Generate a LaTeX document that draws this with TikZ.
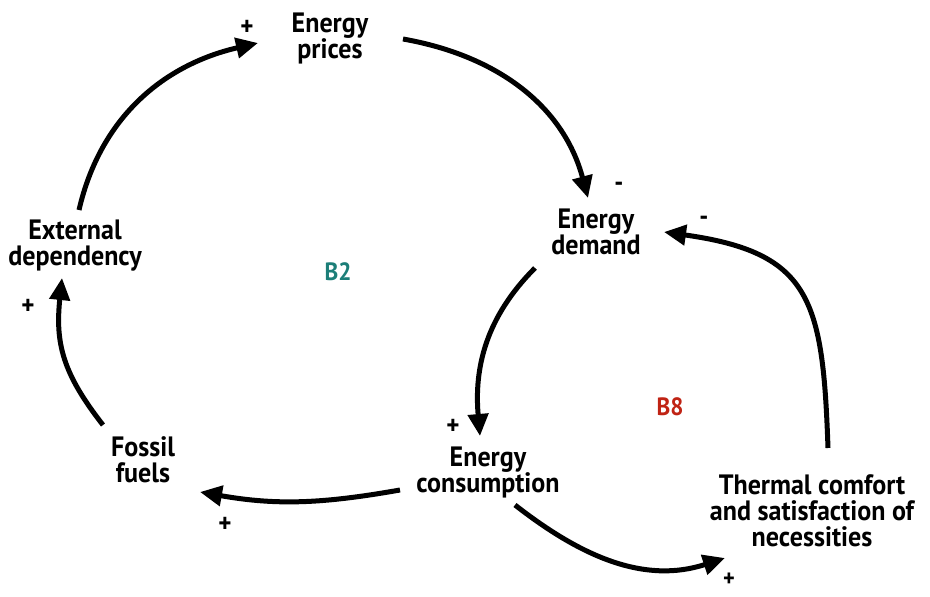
\documentclass[tikz,border=0pt]{standalone}
\usepackage{fontspec}
\usetikzlibrary{arrows.meta}
\newfontfamily\lblfont{PT Sans}[FakeStretch=0.93]
\definecolor{loopteal}{RGB}{28,126,120}
\definecolor{loopred}{RGB}{192,35,20}
\tikzset{
  var/.style={inner sep=0pt, align=center, font=\lblfont\bfseries\fontsize{28}{26}\selectfont},
  sign/.style={inner sep=0pt, font=\lblfont\bfseries\fontsize{27}{27}\selectfont},
  loopname/.style={inner sep=0pt, font=\lblfont\bfseries\fontsize{25}{25}\selectfont},
  link/.style={line width=5pt, -{Triangle[length=22pt,width=20pt]}}
}
\begin{document}
\begin{tikzpicture}[x=1pt,y=1pt]
\useasboundingbox (0,0) rectangle (930,-597);

% variables
\node[var] (prices)  at (330,-38)  {Energy\\prices};
\node[var] (demand)  at (596,-232) {Energy\\demand};
\node[var] (ext)     at (75,-246)  {External\\dependency};
\node[var] (fossil)  at (143,-460) {Fossil\\fuels};
\node[var] (cons)    at (488,-472) {Energy\\consumption};
\node[var] (thermal) at (812,-511) {Thermal comfort\\and satisfaction of\\necessities};

% loop names
\node[loopname, text=loopteal] (b2) at (338,-272) {B2};
\node[loopname, text=loopred]  (b8) at (670,-407) {B8};

% causal links (end points set from the node centres)
\draw[link] ([xshift=4pt,yshift=36pt]ext.center) to[out=77,in=193]
            ([xshift=-72pt,yshift=-5pt]prices.center);
\draw[link] ([xshift=73pt,yshift=-1pt]prices.center) to[out=-10,in=105]
            ([xshift=-8pt,yshift=34pt]demand.center);
\draw[link] ([xshift=-61pt,yshift=-36pt]demand.center) to[out=225,in=95]
            ([xshift=-8pt,yshift=36pt]cons.center);
\draw[link] ([xshift=-88pt,yshift=-18pt]cons.center) to[out=190,in=-10]
            ([xshift=57pt,yshift=-32pt]fossil.center);
\draw[link] ([xshift=-40pt,yshift=35pt]fossil.center) to[out=128,in=264,looseness=1.1]
            ([xshift=-13pt,yshift=-32pt]ext.center);
\draw[link] ([xshift=27pt,yshift=-33pt]cons.center) to[out=-38,in=198]
            ([xshift=-87pt,yshift=-47pt]thermal.center);
\draw[link] ([xshift=16pt,yshift=63pt]thermal.center) to[out=92,in=-8,looseness=1.4]
            ([xshift=68pt,yshift=0pt]demand.center);

% polarities
\node[sign] (s1) at (247,-28)  {+};
\node[sign] (s2) at (619,-187) {-};
\node[sign] (s3) at (453,-427) {+};
\node[sign] (s4) at (225,-525) {+};
\node[sign] (s5) at (28,-307)  {+};
\node[sign, font=\lblfont\bfseries\fontsize{24}{24}\selectfont] (s6) at (729,-580) {+};
\node[sign] (s7) at (704,-221) {-};
\end{tikzpicture}
\end{document}
